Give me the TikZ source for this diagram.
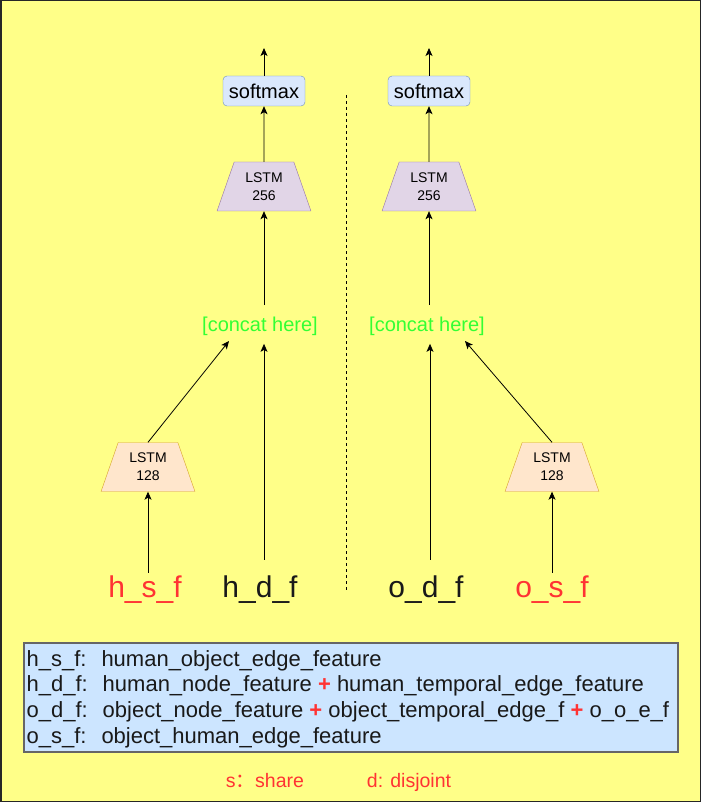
\documentclass[tikz,border=0pt]{standalone}
\usepackage{fontspec}
\setmainfont{Liberation Sans}
\newfontfamily\cjk{Noto Sans CJK SC}
\usetikzlibrary{arrows.meta,shapes.geometric,calc}
\definecolor{bgyellow}{HTML}{FFFF88}
\definecolor{softfill}{HTML}{DAE8FC}
\definecolor{softline}{HTML}{6C8EBF}
\definecolor{bigfill}{HTML}{E1D5E7}
\definecolor{bigline}{HTML}{9673A6}
\definecolor{smallfill}{HTML}{FFE6CC}
\definecolor{smallline}{HTML}{D7A22A}
\definecolor{catgreen}{HTML}{33FF33}
\definecolor{featred}{HTML}{FF3333}
\definecolor{keyfill}{HTML}{CCE5FF}
\definecolor{keyline}{HTML}{666666}

\tikzset{
  arr/.style={-{Stealth[length=8pt,width=7pt,inset=2pt]},line width=0.8pt},
  softbox/.style={draw=softline,fill=softfill,rounded corners=4pt,
    minimum width=82pt,minimum height=30pt,inner sep=0pt,
    font=\fontsize{20}{22}\selectfont},
  lstmbox/.style={trapezium,trapezium stretches=true,
    trapezium left angle=69,trapezium right angle=69,
    minimum width=94pt,minimum height=49pt,inner sep=0pt,align=center,
    font=\fontsize{14}{18}\selectfont},
  bigbox/.style={lstmbox,draw=bigline,fill=bigfill},
  smallbox/.style={lstmbox,draw=smallline,fill=smallfill},
  concat/.style={text=catgreen,font=\fontsize{20}{24}\selectfont},
  feat/.style={anchor=base,font=\fontsize{30}{34}\selectfont},
  note/.style={anchor=base,text=featred,font=\fontsize{19.5}{22}\selectfont},
}

\begin{document}
\begin{tikzpicture}[x=1pt,y=-1pt]
  \useasboundingbox (0,0) rectangle (701,802);
  \draw[fill=bgyellow,draw=black!85,line width=1.5pt] (0.75,0.75) rectangle (700.25,801.25);

  % output side
  \node[softbox] (smL) at (264,91) {softmax};
  \node[softbox] (smR) at (429,91) {softmax};
  \coordinate (outL) at (264,48);
  \coordinate (outR) at (429,48);
  \node[bigbox] (bigL) at (264,186.5) {LSTM\\256};
  \node[bigbox] (bigR) at (429,186.5) {LSTM\\256};
  \node[concat] (catL) at (260,326) {[concat here]};
  \node[concat] (catR) at (427,326) {[concat here]};

  % input side
  \node[smallbox] (shL) at (148,467) {LSTM\\128};
  \node[smallbox] (shR) at (552,467) {LSTM\\128};
  \node[feat,text=featred] (hsf) at (145,597) {h\_s\_f};
  \node[feat,text=black!90] (hdf) at (260,597) {h\_d\_f};
  \node[feat,text=black!90] (odf) at (426,597) {o\_d\_f};
  \node[feat,text=featred] (osf) at (552,597) {o\_s\_f};
  \coordinate (inL) at (229,341);
  \coordinate (inR) at (465,341);

  \draw[arr] (smL.north) -- (outL);
  \draw[arr] (smR.north) -- (outR);
  \draw[arr] (bigL.north) -- (smL.south);
  \draw[arr] (bigR.north) -- (smR.south);
  \draw[arr,shorten <=8pt] (catL.north -| bigL.south) -- (bigL.south);
  \draw[arr,shorten <=8pt] (catR.north -| bigR.south) -- (bigR.south);

  \draw[arr] ([yshift=-1pt]hsf.north -| shL.south) -- (shL.south);
  \draw[arr] ([yshift=-1pt]osf.north -| shR.south) -- (shR.south);
  \draw[arr] (shL.north) -- (inL);
  \draw[arr] (shR.north) -- (inR);
  \draw[arr,shorten >=5pt] ([yshift=12pt]hdf.north -| bigL.south) -- (catL.south -| bigL.south);
  \draw[arr,shorten >=5pt] ([yshift=12pt]odf.north -| 430,0) -- (catR.south -| 430,0);

  \draw[line width=0.6pt,dash pattern=on 3pt off 3pt] (346,95) -- (346,590);

  % key
  \node[draw=keyline,fill=keyfill,line width=1.2pt,minimum width=654pt,
    minimum height=109pt,inner sep=0pt] (key) at (351,697.5) {};
  \node[anchor=west,align=left,inner xsep=3pt,inner ysep=0pt,
    font=\fontsize{22}{25.7}\selectfont,text=black!90] (keytext) at ([yshift=-1.5pt]key.west) {%
    h\_s\_f:\hspace{15pt}human\_object\_edge\_feature\\
    h\_d\_f:\hspace{15pt}human\_node\_feature {\color{featred}\textbf{+}} human\_temporal\_edge\_feature\\
    o\_d\_f:\hspace{15pt}object\_node\_feature {\color{featred}\textbf{+}} object\_temporal\_edge\_f {\color{featred}\textbf{+}} o\_o\_e\_f\\
    o\_s\_f:\hspace{15pt}object\_human\_edge\_feature};
  \node[note] (share) at (265,787) {s{\cjk ：}share};
  \node[note] (disj) at (409,787) {d: disjoint};
\end{tikzpicture}
\end{document}
